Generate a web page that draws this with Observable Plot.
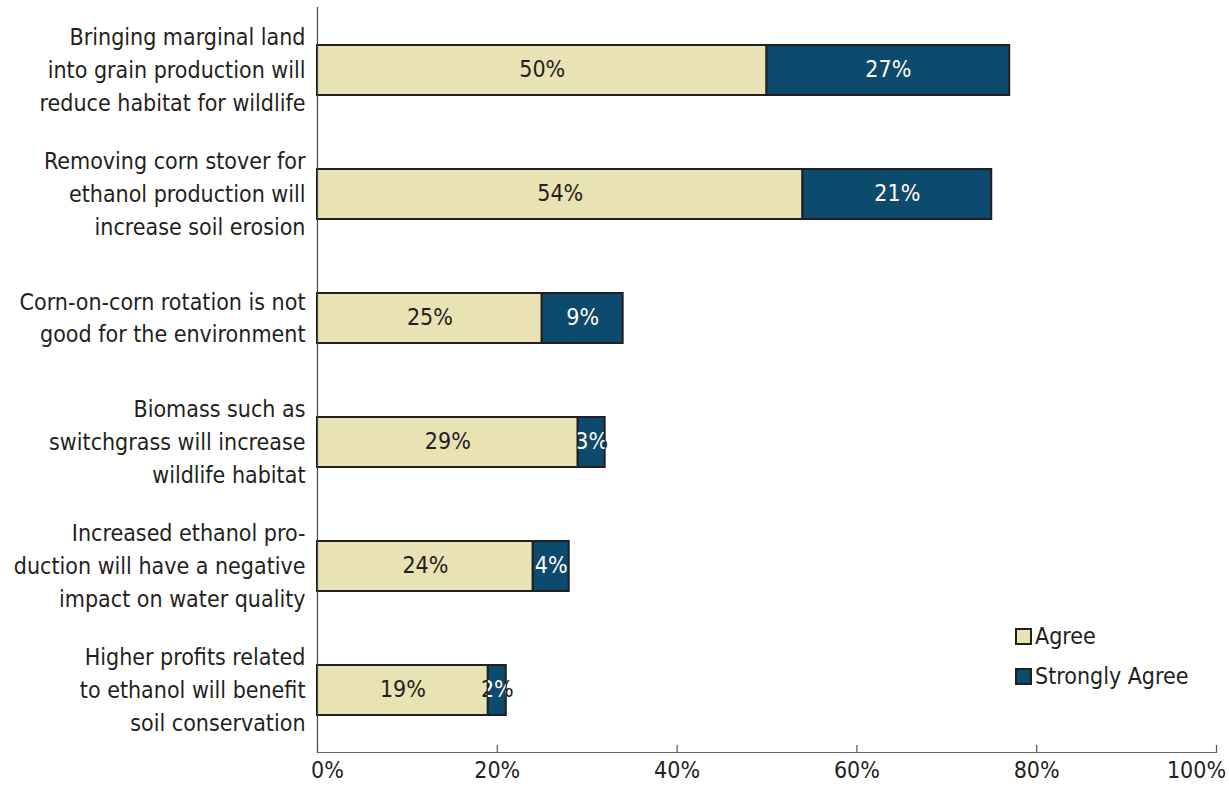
<!DOCTYPE html>
<html>
<head>
<meta charset="utf-8">
<script src="https://cdn.jsdelivr.net/npm/d3@7"></script>
<script src="https://cdn.jsdelivr.net/npm/@observablehq/plot@0.6"></script>
<style>
  body { margin: 0; background: #fff; }
  #chart { position: relative; width: 1229px; height: 791px; font-family: "DejaVu Sans Condensed", "DejaVu Sans", sans-serif; color: #231F20; }
  #chart svg { display: block; }
  .legend { position: absolute; left: 1015px; top: 616px; font-size: 23px; line-height: 40px; }
  .legend .item { display: flex; align-items: center; white-space: nowrap; }
  .legend .sw { width: 13px; height: 13px; border: 2px solid #231F20; margin-right: 3px; box-sizing: content-box; }
</style>
</head>
<body>
<div id="chart"></div>
<script>
// ---- Data ----
const statements = [
  "Bringing marginal land\ninto grain production will\nreduce habitat for wildlife",
  "Removing corn stover for\nethanol production will\nincrease soil erosion",
  "Corn-on-corn rotation is not\ngood for the environment",
  "Biomass such as\nswitchgrass will increase\nwildlife habitat",
  "Increased ethanol pro-\nduction will have a negative\nimpact on water quality",
  "Higher profits related\nto ethanol will benefit\nsoil conservation"
];
const agree = [50, 54, 25, 29, 24, 19];
const stronglyAgree = [27, 21, 9, 3, 4, 2];
const seriesNames = ["Agree", "Strongly Agree"];
const seriesColors = ["#E8E2B4", "#0C4A6E"];
const xTicks = [0, 20, 40, 60, 80, 100];

// ---- Build table ----
const rows = [];
statements.forEach((s, i) => {
  rows.push({statement: s, series: seriesNames[0], value: agree[i]});
  rows.push({statement: s, series: seriesNames[1], value: stronglyAgree[i]});
});

const ink = "#231F20";
const H = 791, MT = 7, MB = 39;
const frameH = H - MT - MB;
const pct = d => d + "%";
const font = '"DejaVu Sans Condensed", "DejaVu Sans", sans-serif';

const plot = Plot.plot({
  width: 1229,
  height: H,
  marginLeft: 317,
  marginRight: 13,
  marginTop: MT,
  marginBottom: MB,
  style: {fontFamily: font, fontSize: "23px", color: ink, background: "#fff"},
  x: {domain: [0, 100], axis: null, label: null},
  y: {domain: statements, paddingInner: 0.6, paddingOuter: 0.3, axis: null, label: null},
  color: {domain: seriesNames, range: seriesColors},
  marks: [
    Plot.barX(rows, {x: "value", y: "statement", fill: "series", stroke: ink, strokeWidth: 2}),
    // dark copy of strongly-agree labels (visible outside narrow bars)
    Plot.text(rows, Plot.stackX({x: "value", y: "statement", text: d => pct(d.value), fill: d => d.series === seriesNames[1] ? ink : "none", fontSize: 23, dy: -1})),
    // main labels (clipped to bars afterwards)
    Plot.text(rows, Plot.stackX({x: "value", y: "statement", text: d => pct(d.value), fill: d => d.series === seriesNames[1] ? "#fff" : ink, fontSize: 23, dy: -1})),
    Plot.frame({anchor: "left", stroke: "#444", strokeWidth: 1.2}),
    Plot.frame({anchor: "bottom", stroke: "#666", strokeWidth: 1.2}),
    Plot.tickX(xTicks, {x: d => d, stroke: "#555", strokeWidth: 1.2, insetTop: frameH - 7}),
    Plot.axisX(xTicks.slice(1, -1), {tickSize: 0, tickPadding: 9, tickFormat: pct, fontSize: 23, fill: ink, label: null}),
    Plot.axisX([xTicks[0]], {tickSize: 0, tickPadding: 9, tickFormat: pct, fontSize: 23, fill: ink, dx: 10, label: null}),
    Plot.axisX([xTicks[xTicks.length - 1]], {tickSize: 0, tickPadding: 9, tickFormat: pct, fontSize: 23, fill: ink, dx: -20, label: null}),
    Plot.axisY({tickSize: 0, tickPadding: 12, fontSize: 23, lineHeight: 1.43, fill: ink, textAnchor: "end", dy: -3, label: null})
  ]
});

const chart = document.getElementById("chart");
chart.append(plot);

// Clip the main labels to their bars
(function () {
  const svg = d3.select(plot);
  const rectByIndex = new Map();
  svg.selectAll("g[aria-label=bar] rect").each(function (i) { rectByIndex.set(i, this); });
  const textGroups = svg.selectAll("g[aria-label=text]").nodes();
  const layer = textGroups[textGroups.length - 1];
  const defs = svg.append("defs");
  const texts = d3.select(layer).selectAll("text").nodes();
  texts.forEach(t => {
    const i = d3.select(t).datum();
    const r = rectByIndex.get(i);
    if (!r) return;
    const b = r.getBBox();
    const m = layer.getScreenCTM().inverse().multiply(r.getScreenCTM());
    const p1 = new DOMPoint(b.x, b.y).matrixTransform(m);
    const p2 = new DOMPoint(b.x + b.width, b.y + b.height).matrixTransform(m);
    const id = "barclip" + i;
    defs.append("clipPath").attr("id", id).append("rect")
      .attr("x", Math.min(p1.x, p2.x)).attr("y", Math.min(p1.y, p2.y))
      .attr("width", Math.abs(p2.x - p1.x)).attr("height", Math.abs(p2.y - p1.y));
    const g = d3.select(layer).append("g").attr("clip-path", `url(#${id})`);
    g.node().appendChild(t);
  });
})();

// Legend (inside plot area, as in the reference)
const legend = document.createElement("div");
legend.className = "legend";
seriesNames.forEach((name, k) => {
  const item = document.createElement("div");
  item.className = "item";
  const sw = document.createElement("span");
  sw.className = "sw";
  sw.style.background = seriesColors[k];
  const label = document.createElement("span");
  label.textContent = name;
  item.append(sw, label);
  legend.append(item);
});
chart.append(legend);
</script>
</body>
</html>
